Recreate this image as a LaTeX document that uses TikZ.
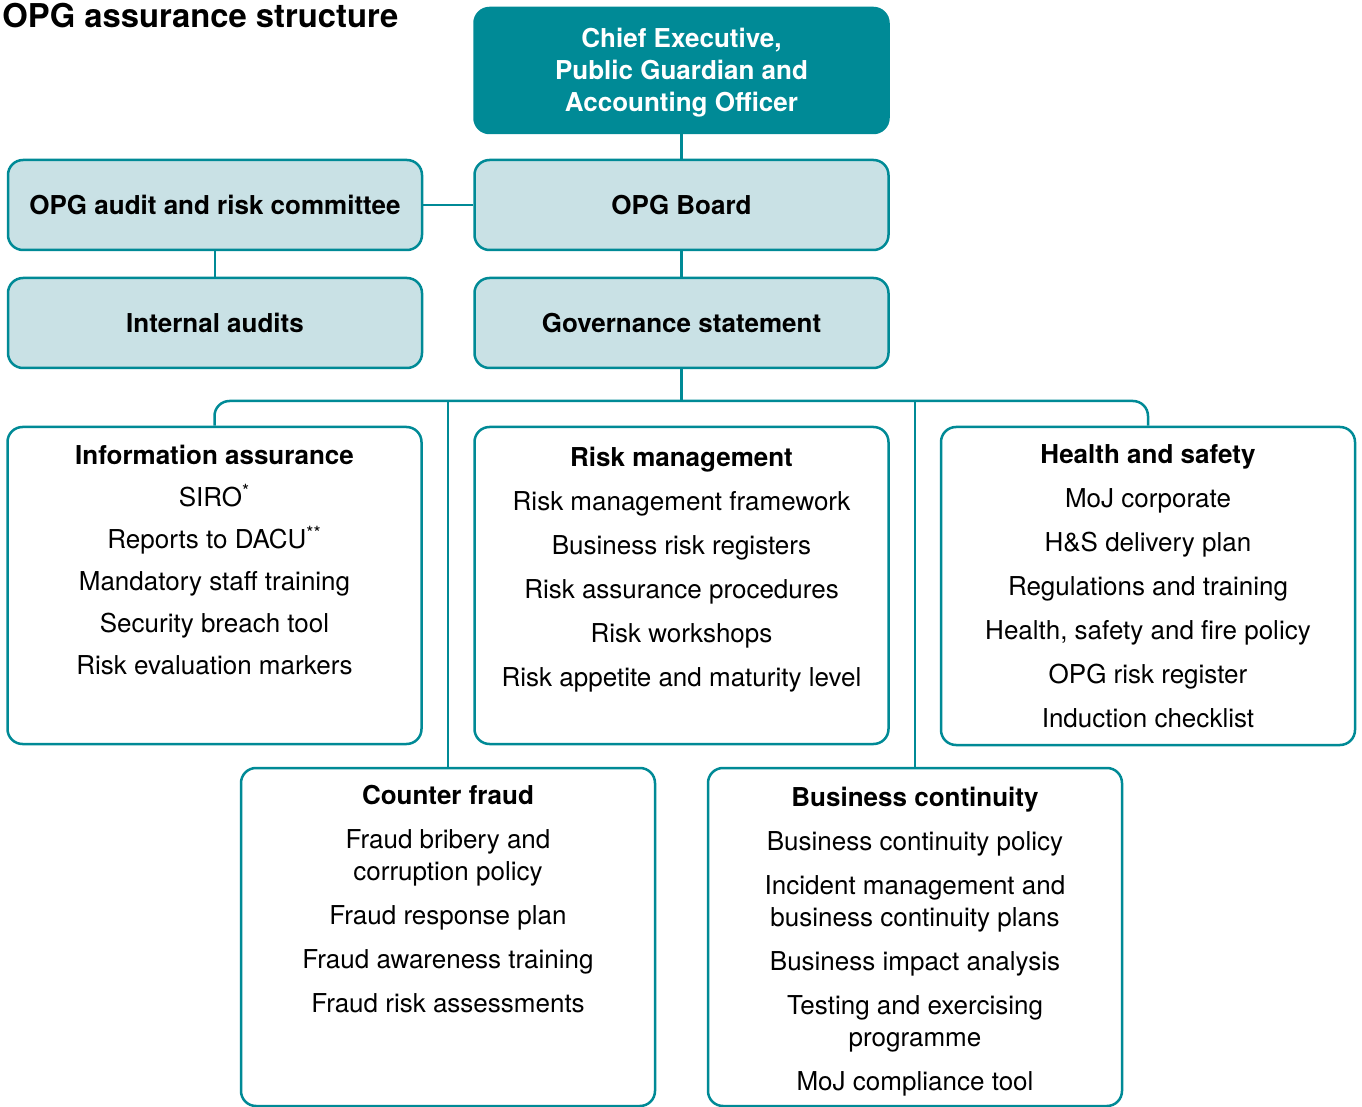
\documentclass[tikz,border=0pt]{standalone}
\usepackage{fontspec}
\setmainfont{TeX Gyre Heros}
\usetikzlibrary{positioning}

\definecolor{opgteal}{RGB}{0,138,150}
\definecolor{opglight}{RGB}{201,225,229}

\tikzset{
  box/.style={draw=opgteal, line width=1.25pt, rounded corners=7.5pt,
    minimum width=207pt, inner sep=0pt},
  headbox/.style={box, fill=opgteal, minimum height=62.5pt},
  headtext/.style={text=white, align=center, inner sep=0pt,
    font=\bfseries\fontsize{13}{16}\selectfont},
  lightbox/.style={box, fill=opglight, minimum height=45pt,
    font=\bfseries\fontsize{13}{16}\selectfont},
  areabox/.style={box, fill=white},
  itemlist/.style={anchor=north, align=center, inner sep=0pt,
    font=\fontsize{13}{16}\selectfont},
  link/.style={draw=opgteal, line width=1.25pt},
}

\begin{document}
\begin{tikzpicture}[x=0.5pt,y=-0.5pt]
\useasboundingbox (0,0) rectangle (1362,1107);

\node (title) [anchor=base west, inner sep=0pt,
  font=\bfseries\fontsize{16.4}{20}\selectfont] at (2,28) {OPG assurance structure};

% top of the structure
\node (ceo) [headbox] at (681.5,70.5) {};
\node (ceotext) [headtext] at ([yshift=-1pt]ceo.center) {Chief Executive,\\Public Guardian and\\Accounting Officer};
\node (arc) [lightbox] at (215,205) {\raisebox{-0.5pt}{OPG audit and risk committee}};
\node (board) [lightbox] at (681.5,205) {\raisebox{-0.5pt}{OPG Board}};
\node (audits) [lightbox] at (215,323) {\raisebox{-0.5pt}{Internal audits}};
\node (gov) [lightbox] at (681.5,323) {\raisebox{-0.5pt}{Governance statement}};

% assurance areas
\node (info) [areabox, minimum height=158.5pt] at (214.5,585.5) {};
\node (risk) [areabox, minimum height=158.5pt] at (681.5,585.5) {};
\node (hs) [areabox, minimum height=159pt] at (1148,586) {};
\node (fraud) [areabox, minimum height=169pt] at (448,937) {};
\node (bc) [areabox, minimum height=169pt] at (915,937) {};

\node (infotext) [itemlist, below=9.5pt of info.north] {%
  {\bfseries Information assurance}\\[5pt]
  SIRO\textsuperscript{*}\\[5pt]
  Reports to DACU\textsuperscript{**}\\[5pt]
  Mandatory staff training\\[5pt]
  Security breach tool\\[5pt]
  Risk evaluation markers};
\node (risktext) [itemlist, below=10.5pt of risk.north] {%
  {\bfseries Risk management}\\[6pt]
  Risk management framework\\[6pt]
  Business risk registers\\[6pt]
  Risk assurance procedures\\[6pt]
  Risk workshops\\[6pt]
  Risk appetite and maturity level};
\node (hstext) [itemlist, below=9pt of hs.north] {%
  {\bfseries Health and safety}\\[6pt]
  MoJ corporate\\[6pt]
  H\&S delivery plan\\[6pt]
  Regulations and training\\[6pt]
  Health, safety and fire policy\\[6pt]
  OPG risk register\\[6pt]
  Induction checklist};
\node (fraudtext) [itemlist, below=9pt of fraud.north] {%
  {\bfseries Counter fraud}\\[6pt]
  Fraud bribery and\\corruption policy\\[6pt]
  Fraud response plan\\[6pt]
  Fraud awareness training\\[6pt]
  Fraud risk assessments};
\node (bctext) [itemlist, below=10pt of bc.north] {%
  {\bfseries Business continuity}\\[6pt]
  Business continuity policy\\[6pt]
  Incident management and\\business continuity plans\\[6pt]
  Business impact analysis\\[6pt]
  Testing and exercising\\programme\\[6pt]
  MoJ compliance tool};

% connectors
\coordinate (bus) at (681.5,401);
\draw[link] (ceo) -- (board);
\draw[link] (arc) -- (board);
\draw[link] (arc) -- (audits);
\draw[link] (board) -- (gov);
\draw[link] (gov) -- (bus);
\draw[link, rounded corners=7.5pt] (info.north) |- (bus) -| (hs.north);
\draw[link] (fraud.north) -- (fraud.north |- bus);
\draw[link] (bc.north) -- (bc.north |- bus);
\end{tikzpicture}
\end{document}
